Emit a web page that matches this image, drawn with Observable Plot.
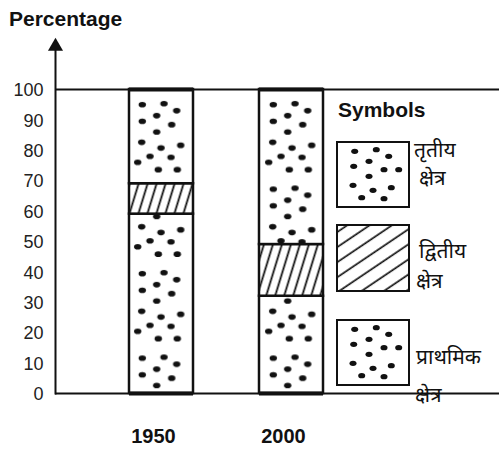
<!DOCTYPE html>
<html>
<head>
<meta charset="utf-8">
<script src="https://cdn.jsdelivr.net/npm/d3@7"></script>
<script src="https://cdn.jsdelivr.net/npm/@observablehq/plot@0.6"></script>
<style>
  body { margin: 0; background: #fff; }
  #wrap { position: relative; width: 499px; height: 449px; overflow: hidden;
          font-family: "Liberation Sans", Arial, sans-serif; }
  #title { height: 34px; box-sizing: border-box; padding: 4px 0 0 9px; line-height: 30px;
           font-size: 21px; font-weight: bold; color: #111; }
  #legend { position: absolute; left: 0; top: 0; pointer-events: none; }
  .hi { font-family: "Noto Sans Devanagari", "Lohit Devanagari", "Mangal", "FreeSans", "Noto Sans", sans-serif; }
</style>
</head>
<body>
<svg width="0" height="0" style="position:absolute">
  <defs>
    <pattern id="dotsBar" patternUnits="userSpaceOnUse" width="65.5" height="84.5">
      <rect width="65.5" height="84.5" fill="#fff"/>
      <g fill="#111">
        <ellipse cx="13.3" cy="15.7" rx="3.7" ry="2.8"/>
        <ellipse cx="35" cy="14.7" rx="3.7" ry="2.8"/>
        <ellipse cx="47.7" cy="21.7" rx="3.7" ry="2.8"/>
        <ellipse cx="27.7" cy="26.7" rx="3.7" ry="2.8"/>
        <ellipse cx="13.3" cy="32.3" rx="3.7" ry="2.8"/>
        <ellipse cx="42.7" cy="35.7" rx="3.7" ry="2.8"/>
        <ellipse cx="27.7" cy="43" rx="3.7" ry="2.8"/>
        <ellipse cx="12.7" cy="53.3" rx="3.7" ry="2.8"/>
        <ellipse cx="32" cy="59" rx="3.7" ry="2.8"/>
        <ellipse cx="51.7" cy="56.3" rx="3.7" ry="2.8"/>
        <ellipse cx="8.7" cy="73.3" rx="3.7" ry="2.8"/>
        <ellipse cx="21" cy="67.3" rx="3.7" ry="2.8"/>
        <ellipse cx="42" cy="68.3" rx="3.7" ry="2.8"/>
        <ellipse cx="29.3" cy="80.7" rx="3.7" ry="2.8"/>
        <ellipse cx="48.3" cy="80.7" rx="3.7" ry="2.8"/>
      </g>
    </pattern>
    <pattern id="hatchBar" patternUnits="userSpaceOnUse" width="8.6" height="10" patternTransform="rotate(17)">
      <rect width="8.6" height="10" fill="#fff"/>
      <line x1="4.3" y1="-1" x2="4.3" y2="11" stroke="#111" stroke-width="1.8"/>
    </pattern>
    <pattern id="dotsLegend" patternUnits="objectBoundingBox" x="0" y="0" width="1" height="1" patternContentUnits="userSpaceOnUse">
      <rect width="72" height="66" fill="#fff"/>
      <g fill="#111">
        <ellipse cx="17.7" cy="9.3" rx="3.5" ry="2.6"/>
        <ellipse cx="39.3" cy="7.7" rx="3.5" ry="2.6"/>
        <ellipse cx="51.7" cy="14.3" rx="3.5" ry="2.6"/>
        <ellipse cx="32" cy="19.3" rx="3.5" ry="2.6"/>
        <ellipse cx="16.7" cy="24.3" rx="3.5" ry="2.6"/>
        <ellipse cx="47" cy="27.7" rx="3.5" ry="2.6"/>
        <ellipse cx="61.7" cy="27.7" rx="3.5" ry="2.6"/>
        <ellipse cx="32" cy="34.3" rx="3.5" ry="2.6"/>
        <ellipse cx="16" cy="43.3" rx="3.5" ry="2.6"/>
        <ellipse cx="36" cy="48.3" rx="3.5" ry="2.6"/>
        <ellipse cx="54.3" cy="45.7" rx="3.5" ry="2.6"/>
        <ellipse cx="24.7" cy="55.7" rx="3.5" ry="2.6"/>
        <ellipse cx="47" cy="56.7" rx="3.5" ry="2.6"/>
      </g>
    </pattern>
    <pattern id="hatchLegend" patternUnits="userSpaceOnUse" width="12.5" height="12" patternTransform="rotate(56)">
      <rect width="12.5" height="12" fill="#fff"/>
      <line x1="6" y1="-1" x2="6" y2="13" stroke="#111" stroke-width="1.7"/>
    </pattern>
  </defs>
</svg>

<div id="wrap">
  <div id="title">Percentage</div>
  <div id="chart"></div>
  <svg id="legend" width="499" height="449"></svg>
</div>

<script>
// ---- data ----
const years = ["1950", "2000"];
const sectors = ["primary", "secondary", "tertiary"];
const primaryShare = [59, 32];
const secondaryShare = [10, 17];
const tertiaryShare = [31, 51];
const yTicks = [0, 10, 20, 30, 40, 50, 60, 70, 80, 90, 100];
const legendTitle = "Symbols";
const legendSectors = ["tertiary", "secondary", "primary"];
const legendLine1 = ["तृतीय", "द्वितीय", "प्राथमिक"];
const legendLine2 = ["क्षेत्र", "क्षेत्र", "क्षेत्र"];

const shares = { primary: primaryShare, secondary: secondaryShare, tertiary: tertiaryShare };
const rows = years.flatMap((year, i) => sectors.map(sector => ({ year, sector, value: shares[sector][i] })));

const ink = "#111";

const plot = Plot.plot({
  width: 499,
  height: 415,
  marginLeft: 55,
  marginRight: 0,
  marginTop: 12,
  marginBottom: 56,
  style: { fontFamily: "'Liberation Sans', Arial, sans-serif", color: ink, background: "transparent", overflow: "visible" },
  x: { domain: years, range: [55, 323], paddingInner: 0.504, paddingOuter: 0.275, align: 1 },
  y: { domain: [0, 100], range: [359, 55] },
  color: { domain: sectors, range: ["url(#dotsBar)", "url(#hatchBar)", "url(#dotsBar)"] },
  marks: [
    Plot.ruleY([0, 100], { stroke: ink, strokeWidth: 2 }),
    Plot.frame({ anchor: "left", stroke: ink, strokeWidth: 2 }),
    Plot.dot([0], { frameAnchor: "top-left", symbol: "triangle", r: 5.6, fill: ink, stroke: "none" }),
    Plot.barY(rows, { x: "year", y: "value", fill: "sector", stroke: ink, strokeWidth: 2.5 }),
    Plot.tickY(years, { x: d => d, y: () => 100, stroke: ink, strokeWidth: 4 }),
    Plot.tickY(years, { x: d => d, y: () => 0, stroke: ink, strokeWidth: 4 }),
    Plot.axisY({ ticks: yTicks, tickSize: 0, tickPadding: 12, fontSize: 18, label: null, dy: 1, fill: "#222" }),
    Plot.axisX({ tickSize: 0, tickPadding: 35, fontSize: 20, fontWeight: "bold", label: null, dx: -8 })
  ]
});
document.getElementById("chart").appendChild(plot);

// align the dot pattern to the bars
const xs = plot.scale("x"), ys = plot.scale("y");
d3.select("#dotsBar").attr("patternTransform", `translate(${xs.apply(years[0])},${ys.apply(100)})`);

// ---- legend ----
const lg = d3.select("#legend");
lg.append("text").attr("x", 338).attr("y", 117)
  .attr("font-family", "'Liberation Sans', Arial, sans-serif")
  .attr("font-size", 21).attr("font-weight", "bold").attr("fill", ink).text(legendTitle);

const boxY = [142, 225, 320];
const boxH = [65, 66, 65];
const l1 = [{ x: 414, y: 157 }, { x: 419, y: 258 }, { x: 416, y: 364 }];
const l2 = [{ x: 419, y: 185 }, { x: 416, y: 288 }, { x: 415, y: 402 }];
legendSectors.forEach((s, i) => {
  lg.append("rect").attr("x", 337).attr("y", boxY[i]).attr("width", 72).attr("height", boxH[i])
    .attr("fill", s === "secondary" ? "url(#hatchLegend)" : "url(#dotsLegend)")
    .attr("stroke", ink).attr("stroke-width", 2);
  lg.append("text").attr("class", "hi").attr("x", l1[i].x).attr("y", l1[i].y)
    .attr("font-size", 21).attr("fill", ink).text(legendLine1[i]);
  lg.append("text").attr("class", "hi").attr("x", l2[i].x).attr("y", l2[i].y)
    .attr("font-size", 21).attr("fill", ink).text(legendLine2[i]);
});
</script>
</body>
</html>
